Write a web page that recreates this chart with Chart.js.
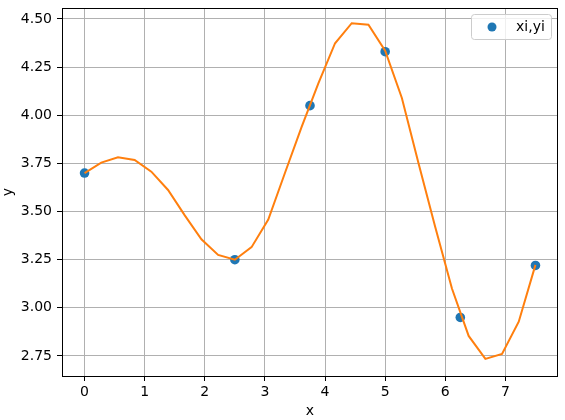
<!DOCTYPE html>
<html>
<head>
<meta charset="utf-8">
<script src="https://cdn.jsdelivr.net/npm/chart.js@4.4.1/dist/chart.umd.min.js"></script>
<style>
  html, body { margin: 0; padding: 0; background: #fff; }
</style>
</head>
<body>
<canvas id="chart" width="565" height="420"></canvas>
<script>
// sample points
const xi = [0, 2.5, 3.75, 5, 6.25, 7.5];
const yi = [3.70, 3.25, 4.05, 4.33, 2.95, 3.22];

// interpolated curve
const xs = [0, 0.278, 0.556, 0.833, 1.111, 1.389, 1.667, 1.944, 2.222, 2.5,
  2.778, 3.056, 3.333, 3.611, 3.889, 4.167, 4.444, 4.722, 5.0, 5.278,
  5.556, 5.833, 6.111, 6.389, 6.667, 6.944, 7.222, 7.5];
const ys = [3.70, 3.754, 3.782, 3.768, 3.707, 3.612, 3.48, 3.356, 3.275, 3.25,
  3.315, 3.458, 3.70, 3.94, 4.165, 4.374, 4.478, 4.470, 4.335, 4.09,
  3.75, 3.42, 3.10, 2.854, 2.735, 2.761, 2.928, 3.223];

const xTicks = [0, 1, 2, 3, 4, 5, 6, 7];
const yTicks = [2.75, 3.00, 3.25, 3.50, 3.75, 4.00, 4.25, 4.50];

const BLUE = "#1f77b4";
const ORANGE = "#ff7f0e";

Chart.defaults.font.family = "'DejaVu Sans', sans-serif";
Chart.defaults.font.size = 14;
Chart.defaults.color = "#000";

// axes frame like matplotlib spines
const framePlugin = {
  id: "frame",
  afterDatasetsDraw(chart) {
    const { ctx, chartArea: a } = chart;
    ctx.save();
    ctx.strokeStyle = "#000";
    ctx.lineWidth = 1;
    ctx.strokeRect(Math.round(a.left) + 0.5, Math.round(a.top) + 0.5,
      Math.round(a.right - a.left) - 1, Math.round(a.bottom - a.top));
    ctx.restore();
  },
};

// legend box inside the plot, upper right
const innerLegend = {
  id: "innerLegend",
  afterDraw(chart) {
    const { ctx, chartArea: a } = chart;
    const label = chart.data.datasets[1].label;
    ctx.save();
    ctx.font = "14px 'DejaVu Sans', sans-serif";
    const tw = ctx.measureText(label).width;
    const w = Math.round(51 + tw);
    const h = 25;
    const x = Math.round(a.right - 7 - w);
    const y = Math.round(a.top + 6);
    ctx.beginPath();
    ctx.roundRect(x + 0.5, y + 0.5, w, h, 3);
    ctx.fillStyle = "rgba(255,255,255,0.8)";
    ctx.fill();
    ctx.strokeStyle = "#cccccc";
    ctx.lineWidth = 1;
    ctx.stroke();
    ctx.beginPath();
    ctx.arc(x + 21, y + h / 2 + 0.5, 4.5, 0, Math.PI * 2);
    ctx.fillStyle = BLUE;
    ctx.fill();
    ctx.fillStyle = "#000";
    ctx.textBaseline = "middle";
    ctx.fillText(label, x + 45, y + h / 2 + 1);
    ctx.restore();
  },
};

const data = {
  datasets: [
    {
      type: "line",
      label: "",
      data: xs.map((x, i) => ({ x: x, y: ys[i] })),
      borderColor: ORANGE,
      backgroundColor: ORANGE,
      borderWidth: 2,
      pointRadius: 0,
      tension: 0,
    },
    {
      type: "scatter",
      label: "xi,yi",
      data: xi.map((x, i) => ({ x: x, y: yi[i] })),
      backgroundColor: BLUE,
      borderColor: BLUE,
      pointRadius: 4.8,
      pointBorderWidth: 0,
    },
  ],
};

const config = {
  type: "scatter",
  data: data,
  options: {
    responsive: false,
    animation: false,
    devicePixelRatio: 1,
    layout: { padding: { top: 8, right: 7, bottom: 0, left: 0 } },
    plugins: {
      legend: { display: false },
      tooltip: { enabled: false },
    },
    scales: {
      x: {
        type: "linear",
        min: -0.375,
        max: 7.875,
        afterBuildTicks: (s) => { s.ticks = xTicks.map((v) => ({ value: v })); },
        afterFit: (s) => { s.height = 44; s.paddingLeft = 0; s.paddingRight = 0; },
        ticks: { padding: 3, callback: (v) => String(v) },
        grid: { color: "#b0b0b0", lineWidth: 1, tickLength: 5, tickColor: "#000", tickWidth: 1 },
        border: { display: false },
        title: { display: true, text: "x", padding: { top: 0, bottom: 0 } },
      },
      y: {
        type: "linear",
        min: 2.646,
        max: 4.557,
        afterBuildTicks: (s) => { s.ticks = yTicks.map((v) => ({ value: v })); },
        afterFit: (s) => { s.width = 62; s.paddingTop = 0; s.paddingBottom = 0; },
        ticks: { padding: 5, callback: (v) => v.toFixed(2) },
        grid: { color: "#b0b0b0", lineWidth: 1, tickLength: 5, tickColor: "#000", tickWidth: 1 },
        border: { display: false },
        title: { display: true, text: "y", padding: { top: 0, bottom: 0 } },
      },
    },
  },
  plugins: [framePlugin, innerLegend],
};

const myChart = new Chart(document.querySelector("#chart"), config);
</script>
</body>
</html>
